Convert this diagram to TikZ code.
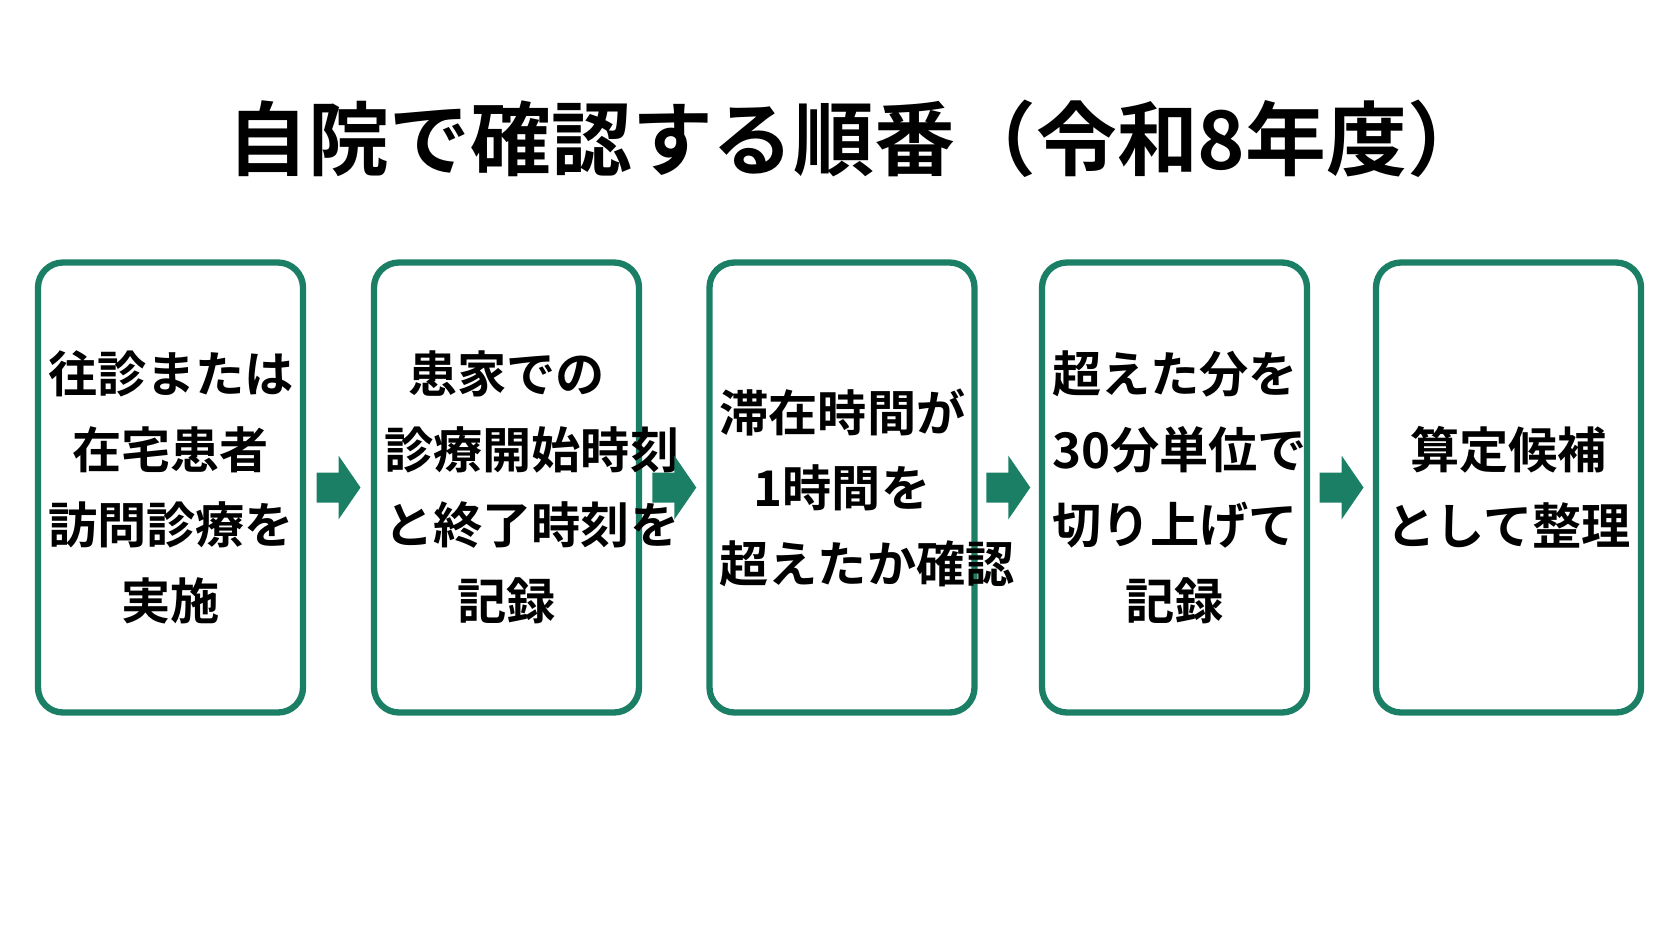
\documentclass[tikz,border=0pt]{standalone}
\usepackage{fontspec}
\newfontfamily\jpfont{Noto Sans CJK JP}[BoldFont={* Bold}]
\usetikzlibrary{calc}
\definecolor{stepgreen}{HTML}{1B7F66}
\tikzset{
  stepbox/.style={draw=stepgreen, line width=1.8pt, rounded corners=0.25cm,
    text width=2.45cm, inner xsep=0.1cm, minimum height=4.5cm, align=center,
    font=\jpfont\bfseries\fontsize{14}{21.5}\selectfont},
  go/.style={fill=stepgreen, draw=none}
}
\begin{document}
\begin{tikzpicture}[x=1cm,y=-1cm]
\useasboundingbox (0,0) rectangle (16.72,9.41);
%% title
\node[font=\jpfont\bfseries\fontsize{23}{28}\selectfont] (title) at (8.58,1.39) {自院で確認する順番（令和8年度）};
%% steps
\node[stepbox] (S1) at (1.705,4.875) {往診または\\在宅患者\\訪問診療を\\実施};
\node[stepbox] (S2) at (5.065,4.875) {患家での\\診療開始時刻\\と終了時刻を\\記録};
\node[stepbox] (S3) at (8.42,4.875) {滞在時間が\\1時間を\\超えたか確認};
\node[stepbox] (S4) at (11.745,4.875) {超えた分を\\30分単位で\\切り上げて\\記録};
\node[stepbox] (S5) at (15.085,4.875) {算定候補\\として整理};
%%% arrows
\foreach \a/\b in {S1/S2,S2/S3,S3/S4,S4/S5} {
  \coordinate (\a\b) at ($(\a.east)!0.5!(\b.west)$);
  \fill[go] ($(\a\b)+(-0.22,-0.15)$) -- ++(0.22,0) -- ++(0,-0.17) -- ++(0.22,0.32)
    -- ++(-0.22,0.32) -- ++(0,-0.17) -- ++(-0.22,0) -- cycle;
}
\end{tikzpicture}
\end{document}
